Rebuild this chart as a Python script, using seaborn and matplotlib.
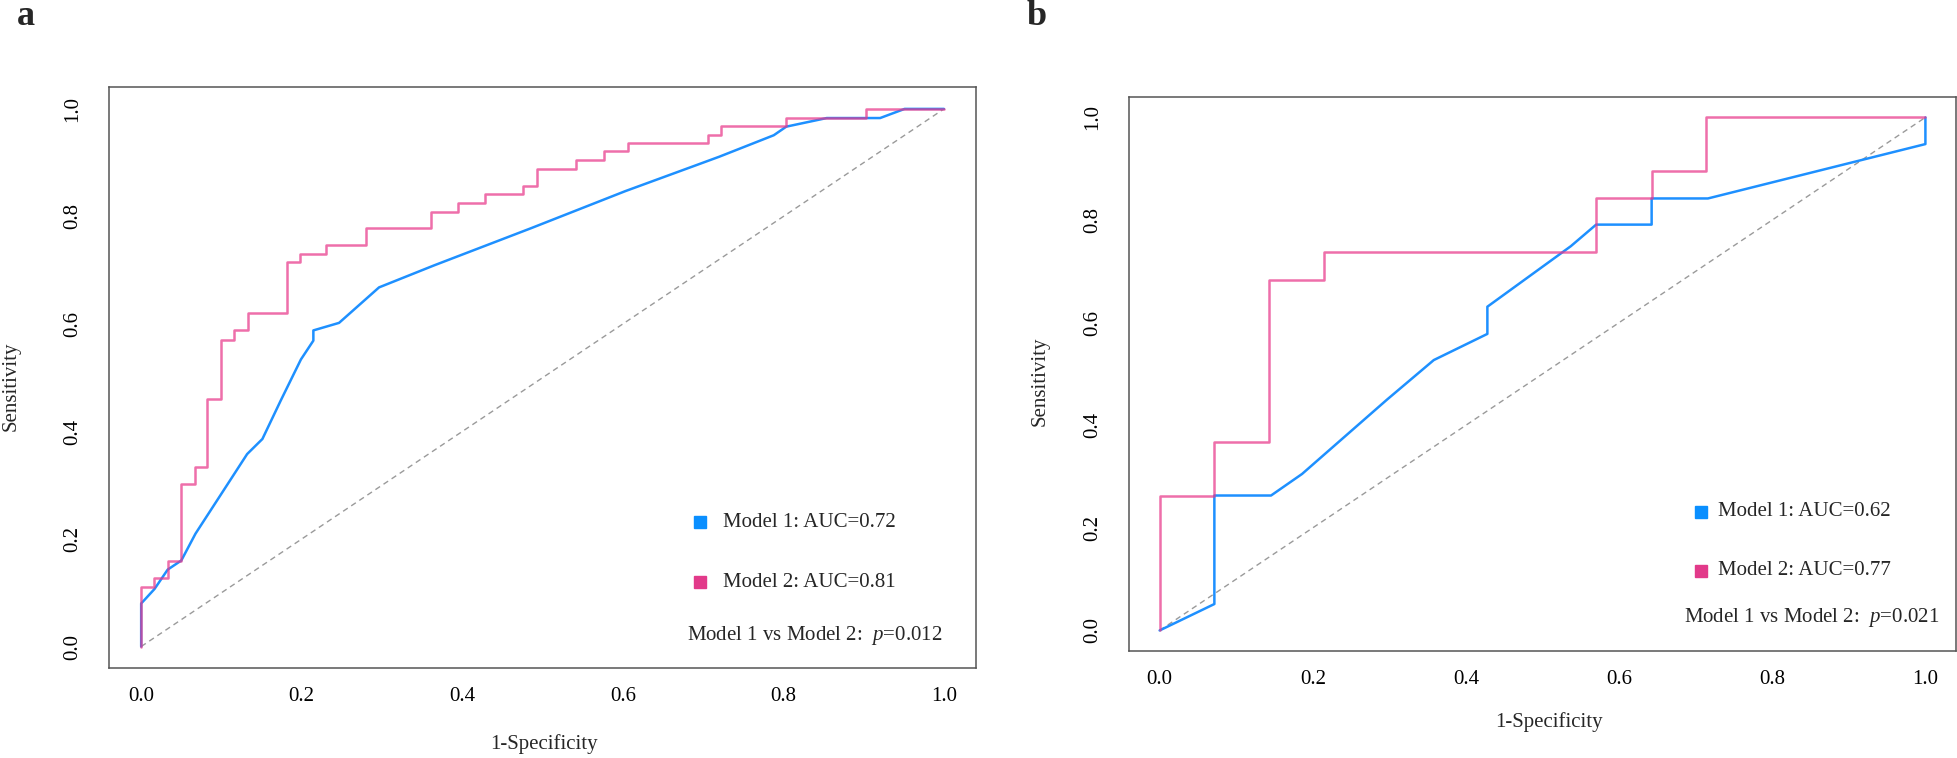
import numpy as np
import pandas as pd
import matplotlib
matplotlib.use("Agg")
import matplotlib.pyplot as plt
import seaborn as sns

sns.set_style("white")
plt.rcParams['font.family'] = ['Liberation Serif', 'DejaVu Serif']
plt.rcParams['mathtext.fontset'] = 'custom'
plt.rcParams['mathtext.rm'] = 'Liberation Serif'
plt.rcParams['mathtext.it'] = 'Liberation Serif:italic'

# ROC curves (x = 1-specificity, y = sensitivity)
# panel a
a_m1_fpr = [0, 0, 0.0166, 0.033, 0.05, 0.0677, 0.099, 0.132, 0.151, 0.174, 0.199, 0.2145, 0.2145,
            0.2465, 0.2963, 0.365, 0.4855, 0.603, 0.689, 0.720, 0.788, 0.8036, 0.854, 0.9205, 0.951, 1.0]
a_m1_tpr = [0, 0.080, 0.107, 0.143, 0.160, 0.210, 0.282, 0.358, 0.386, 0.458, 0.534, 0.569, 0.588,
            0.602, 0.668, 0.709, 0.778, 0.847, 0.894, 0.911, 0.951, 0.967, 0.983, 0.983, 1.0, 1.0]
a_m2_fpr = [0, 0, 0.0166, 0.0166, 0.033, 0.033, 0.05, 0.05, 0.067, 0.067, 0.082, 0.082, 0.099, 0.099,
            0.1155, 0.1155, 0.1326, 0.1326, 0.1816, 0.1816, 0.198, 0.198, 0.230, 0.230, 0.280, 0.280,
            0.3616, 0.3616, 0.3944, 0.3944, 0.428, 0.428, 0.4755, 0.4755, 0.4926, 0.4926, 0.5417, 0.5417,
            0.576, 0.576, 0.606, 0.606, 0.706, 0.706, 0.7225, 0.7225, 0.8036, 0.8036, 0.9026, 0.9026, 1.0]
a_m2_tpr = [0, 0.111, 0.111, 0.127, 0.127, 0.160, 0.160, 0.302, 0.302, 0.333, 0.333, 0.461, 0.461, 0.571,
            0.571, 0.588, 0.588, 0.620, 0.620, 0.715, 0.715, 0.730, 0.730, 0.746, 0.746, 0.778,
            0.778, 0.809, 0.809, 0.825, 0.825, 0.841, 0.841, 0.857, 0.857, 0.889, 0.889, 0.905,
            0.905, 0.921, 0.921, 0.937, 0.937, 0.952, 0.952, 0.968, 0.968, 0.984, 0.984, 1.0, 1.0]
# panel b
b_m1_fpr = [0, 0.0715, 0.0715, 0.1455, 0.186, 0.297, 0.358, 0.428, 0.428, 0.537, 0.570, 0.6425, 0.6425, 0.716, 1.0, 1.0]
b_m1_tpr = [0, 0.0515, 0.263, 0.263, 0.305, 0.450, 0.527, 0.578, 0.631, 0.749, 0.791, 0.791, 0.842, 0.842, 0.948, 1.0]
b_m2_fpr = [0, 0, 0.0715, 0.0715, 0.1434, 0.1434, 0.2148, 0.2148, 0.570, 0.570, 0.6425, 0.6425, 0.713, 0.713, 1.0]
b_m2_tpr = [0, 0.263, 0.263, 0.368, 0.368, 0.684, 0.684, 0.737, 0.737, 0.842, 0.842, 0.895, 0.895, 1.0, 1.0]

auc_labels_a = ["Model 1: AUC=0.72", "Model 2: AUC=0.81"]
auc_labels_b = ["Model 1: AUC=0.62", "Model 2: AUC=0.77"]
p_text_a = "Model 1 vs Model 2:  $p$=0.012"
p_text_b = "Model 1 vs Model 2:  $p$=0.021"
ticks = [0.0, 0.2, 0.4, 0.6, 0.8, 1.0]

blue = "#1E90FF"
pink = "#E8388A"
spine_col = "#555555"

fig = plt.figure(figsize=(19.58, 7.58), dpi=100)
ax_a = fig.add_axes([0.0557, 0.1187, 0.4428, 0.766])
ax_b = fig.add_axes([0.5766, 0.1412, 0.4224, 0.731])


def roc_panel(ax, m1x, m1y, m2x, m2y, labels, ptxt, leg, xlab_pos, ylab_pos):
    sns.lineplot(x=[0, 1], y=[0, 1], ax=ax, color="#9a9a9a", lw=1.0, linestyle=(0, (4, 3)))
    sns.lineplot(x=m1x, y=m1y, ax=ax, sort=False, estimator=None, color=blue, lw=1.8)
    sns.lineplot(x=m2x, y=m2y, ax=ax, sort=False, estimator=None, color=pink, lw=1.8, alpha=0.72)
    ax.set_xlim(-0.04, 1.04)
    ax.set_ylim(-0.04, 1.04)
    ax.set_xticks(ticks)
    ax.set_yticks(ticks)
    ax.set_xticklabels([f"{t:.1f}" for t in ticks])
    ax.set_yticklabels([f"{t:.1f}" for t in ticks])
    for s in ax.spines.values():
        s.set_color(spine_col)
        s.set_linewidth(1.1)
    ax.tick_params(axis="both", direction="out", length=5.5, width=1, color=spine_col,
                   labelsize=15, labelcolor="black")
    ax.tick_params(axis="x", pad=8.5)
    ax.tick_params(axis="y", pad=14, labelrotation=90)
    for lab in ax.get_yticklabels():
        lab.set_va("center")
    ax.set_xlabel("1-Specificity", fontsize=15)
    ax.set_ylabel("Sensitivity", fontsize=15)
    ax.xaxis.set_label_coords(*xlab_pos)
    ax.yaxis.set_label_coords(*ylab_pos)
    ax.xaxis.label.set_va("center")
    ax.yaxis.label.set_va("center")
    sq_x, y1, y2, tx, px, py = leg
    ax.plot([sq_x], [y1], marker="s", ms=9, color="#0A8FFF", transform=ax.transAxes, ls="none")
    ax.plot([sq_x], [y2], marker="s", ms=9, color="#E23A8A", transform=ax.transAxes, ls="none")
    ax.text(tx, y1, labels[0], transform=ax.transAxes, fontsize=15, va="center", ha="left")
    ax.text(tx, y2, labels[1], transform=ax.transAxes, fontsize=15, va="center", ha="left")
    ax.text(px, py, ptxt, transform=ax.transAxes, fontsize=15, va="center", ha="left")


roc_panel(ax_a, a_m1_fpr, a_m1_tpr, a_m2_fpr, a_m2_tpr, auc_labels_a, p_text_a,
          (0.6817, 0.2513, 0.148, 0.708, 0.667, 0.0568), (0.502, -0.131), (-0.113, 0.485))
roc_panel(ax_b, b_m1_fpr, b_m1_tpr, b_m2_fpr, b_m2_tpr, auc_labels_b, p_text_b,
          (0.6917, 0.251, 0.1444, 0.712, 0.671, 0.0596), (0.508, -0.128), (-0.1076, 0.486))

fig.text(17 / 1958, 1 - 25 / 758, "a", fontsize=26, fontweight="bold", va="baseline", ha="left")
fig.text(1027 / 1958, 1 - 25 / 758, "b", fontsize=26, fontweight="bold", va="baseline", ha="left")

fig.savefig("out.png", dpi=100)
